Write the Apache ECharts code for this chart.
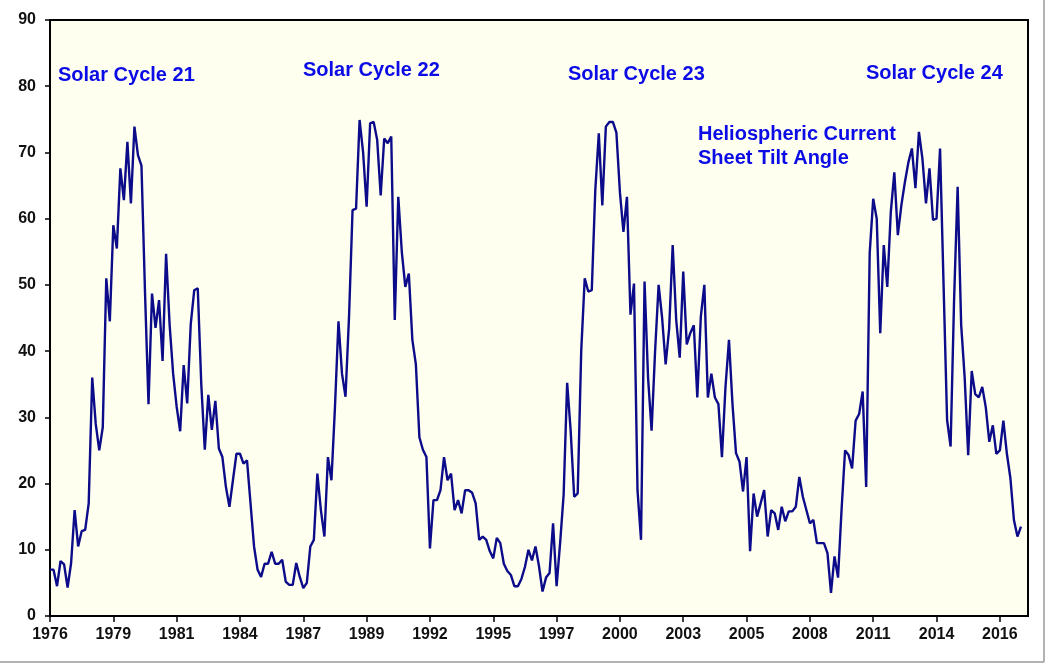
<!DOCTYPE html>
<html>
<head>
<meta charset="utf-8">
<script src="https://cdn.jsdelivr.net/npm/echarts@6/dist/echarts.min.js"></script>
<style>
  html, body { margin: 0; padding: 0; background: #ffffff; }
  #chart { width: 1050px; height: 668px; }
</style>
</head>
<body>
<div id="chart"></div>
<script>
// Tilt angle (degrees), one value every two Carrington rotations, from 1976 onwards
const tilt = [
  7.0, 7.0, 4.5, 8.3, 7.8, 4.3, 8.0, 16.0, 10.5, 12.8,
  13.0, 17.0, 36.0, 29.0, 25.0, 28.5, 51.0, 44.5, 59.0, 55.5,
  67.6, 62.8, 71.6, 62.3, 73.9, 69.6, 68.0, 49.0, 32.0, 48.7,
  43.5, 47.7, 38.5, 54.7, 44.0, 36.6, 31.6, 27.9, 37.9, 32.1,
  44.0, 49.2, 49.5, 35.0, 25.1, 33.4, 28.1, 32.5, 25.3, 24.0,
  19.5, 16.5, 20.5, 24.5, 24.5, 23.0, 23.5, 17.0, 10.5, 7.0,
  5.9, 7.9, 7.9, 9.7, 7.9, 7.9, 8.5, 5.2, 4.7, 4.7,
  8.0, 5.9, 4.2, 5.0, 10.5, 11.5, 21.5, 16.0, 12.0, 24.0,
  20.5, 31.5, 44.5, 36.6, 33.1, 45.2, 61.3, 61.5, 74.9, 70.0,
  61.8, 74.4, 74.6, 71.9, 63.5, 72.1, 71.4, 72.4, 44.7, 63.3,
  55.0, 49.7, 51.7, 41.7, 38.0, 27.0, 25.1, 24.0, 10.2, 17.5,
  17.5, 19.0, 24.0, 20.5, 21.5, 16.0, 17.5, 15.5, 19.0, 19.0,
  18.6, 17.0, 11.5, 12.0, 11.5, 9.8, 8.7, 11.8, 11.0, 7.9,
  6.8, 6.2, 4.5, 4.5, 5.6, 7.4, 10.0, 8.4, 10.5, 7.5,
  3.7, 5.8, 6.5, 14.0, 4.5, 11.0, 18.3, 35.2, 28.0, 18.0,
  18.5, 40.0, 51.0, 49.0, 49.2, 64.3, 72.9, 62.0, 73.9, 74.6,
  74.6, 73.0, 64.0, 58.0, 63.3, 45.5, 50.2, 19.0, 11.5, 50.5,
  36.0, 28.0, 40.0, 50.0, 45.0, 38.0, 43.4, 56.0, 44.7, 39.0,
  52.0, 41.0, 42.7, 43.9, 33.0, 45.2, 50.0, 33.0, 36.6, 33.0,
  32.0, 24.0, 34.5, 41.7, 32.0, 24.6, 23.3, 18.8, 24.0, 9.8,
  18.5, 15.0, 17.0, 19.0, 12.0, 16.0, 15.5, 13.0, 16.5, 14.3,
  15.8, 15.8, 16.5, 21.0, 18.0, 16.0, 14.0, 14.5, 11.0, 11.0,
  11.0, 9.5, 3.5, 9.0, 5.8, 16.0, 25.0, 24.3, 22.3, 29.5,
  30.5, 33.9, 19.5, 54.8, 63.0, 60.0, 42.7, 56.0, 49.7, 61.0,
  67.0, 57.5, 62.0, 65.5, 68.5, 70.6, 64.6, 73.1, 69.0, 62.3,
  67.6, 59.8, 60.0, 70.6, 50.0, 29.6, 25.6, 48.0, 64.8, 44.0,
  36.0, 24.3, 37.0, 33.5, 33.0, 34.6, 31.5, 26.3, 28.8, 24.5,
  25.0, 29.5, 24.5, 20.8, 14.5, 12.0, 13.5
]

// year labels, one every 36 rotations (18 steps)
const yearTicks = ['1976', '1979', '1981', '1984', '1987', '1989', '1992', '1995',
  '1997', '2000', '2003', '2005', '2008', '2011', '2014', '2016']
const stepsPerTick = 18
const totalSteps = 279
const steps = Array.from({ length: totalSteps }, (_, i) => String(i))

const cycleLabels = ['Solar Cycle 21', 'Solar Cycle 22', 'Solar Cycle 23', 'Solar Cycle 24']
const cycleLabelPos = [[58, 65], [303, 60], [568, 64], [866, 63]]
const seriesLabel = 'Heliospheric Current\nSheet Tilt Angle'

const labelFont = '"Liberation Sans", Arial, sans-serif'
const noteColor = '#0b0be6'

const chart = echarts.init(document.getElementById('chart'))

const isTick = (idx) => idx % stepsPerTick === 0

const option = {
  backgroundColor: '#ffffff',
  animation: false,
  grid: {
    left: 50,
    right: 22,
    top: 20,
    bottom: 52,
    show: true,
    backgroundColor: '#fffff0',
    borderColor: '#000',
    borderWidth: 2
  },
  xAxis: {
    type: 'category',
    data: steps,
    boundaryGap: false,
    axisLine: { lineStyle: { color: '#000', width: 2 } },
    axisTick: { interval: isTick, length: 6, lineStyle: { color: '#000', width: 1.5 } },
    axisLabel: {
      interval: isTick,
      formatter: (val, idx) => yearTicks[Math.round(idx / stepsPerTick)] || '',
      color: '#111',
      fontFamily: labelFont,
      fontWeight: 'bold',
      fontSize: 16,
      margin: 11
    },
    splitLine: { show: false }
  },
  yAxis: {
    type: 'value',
    min: 0,
    max: 90,
    interval: 10,
    axisLine: { show: true, lineStyle: { color: '#000', width: 2 } },
    axisTick: { show: true, length: 5, lineStyle: { color: '#000', width: 1.5 } },
    axisLabel: {
      color: '#111',
      fontFamily: labelFont,
      fontWeight: 'bold',
      fontSize: 16,
      margin: 14
    },
    splitLine: { show: false }
  },
  series: [
    {
      name: 'Tilt angle',
      type: 'line',
      data: tilt,
      symbol: 'none',
      lineStyle: { color: '#0c0c8a', width: 2.4 },
      z: 3
    }
  ],
  graphic: [
    ...cycleLabels.map((t, i) => ({
      type: 'text',
      left: cycleLabelPos[i][0],
      top: cycleLabelPos[i][1],
      style: { text: t, fill: noteColor, font: 'bold 20px ' + labelFont }
    })),
    {
      type: 'text',
      left: 698,
      top: 122,
      style: { text: seriesLabel, fill: noteColor, font: 'bold 20px ' + labelFont, lineHeight: 24 }
    },
    // light frame of the original picture
    {
      type: 'line',
      shape: { x1: 1044, y1: 0, x2: 1044, y2: 662 },
      style: { stroke: '#9a9a9a', lineWidth: 1.5 }
    },
    {
      type: 'line',
      shape: { x1: 0, y1: 662, x2: 1044, y2: 662 },
      style: { stroke: '#9a9a9a', lineWidth: 1.5 }
    }
  ]
}

chart.setOption(option)
</script>
</body>
</html>
